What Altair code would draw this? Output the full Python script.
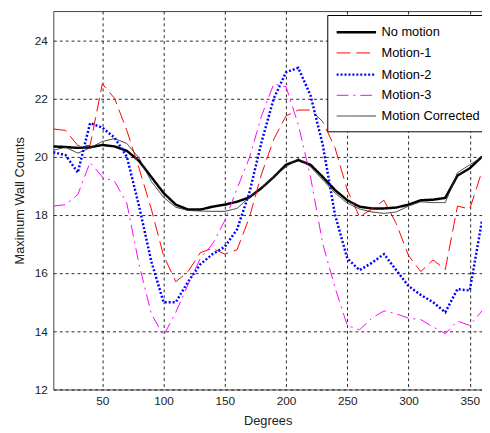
import altair as alt
import pandas as pd

degrees = list(range(10, 361, 10))

series_names = ["No motion", "Motion-1", "Motion-2", "Motion-3", "Motion Corrected"]

no_motion = [20.35, 20.33, 20.3, 20.32, 20.4, 20.35, 20.2, 19.85, 19.3, 18.75,
             18.35, 18.18, 18.18, 18.28, 18.35, 18.45, 18.6, 18.92, 19.3, 19.72,
             19.88, 19.72, 19.3, 18.85, 18.5, 18.28, 18.22, 18.22, 18.25, 18.35,
             18.5, 18.52, 18.58, 19.35, 19.6, 20.0]

motion_1 = [20.95, 20.9, 20.38, 20.38, 22.5, 22.0, 20.9, 19.6, 18.2, 16.6,
            15.7, 16.05, 16.7, 16.85, 16.65, 16.8, 17.9, 19.4, 20.6, 21.4,
            21.6, 21.6, 21.2, 20.3, 18.85, 17.93, 18.2, 18.5, 17.7, 16.6,
            16.05, 16.45, 16.12, 18.3, 18.2, 19.5]

motion_2 = [20.15, 20.05, 19.45, 21.15, 21.0, 20.65, 20.0, 18.3, 16.4, 15.0,
            15.0, 15.7, 16.3, 16.65, 16.9, 17.5, 18.75, 20.5, 22.0, 22.9,
            23.05, 22.1, 20.4, 18.0, 16.5, 16.1, 16.35, 16.65, 16.1, 15.55,
            15.25, 15.0, 14.65, 15.45, 15.4, 17.8]

motion_3 = [18.3, 18.35, 18.7, 19.8, 19.3, 19.15, 18.4, 16.3, 14.6, 13.85,
            14.65, 15.6, 16.5, 17.0, 17.8, 18.9, 19.95, 21.4, 22.5, 22.4,
            21.1, 19.3, 17.0, 15.5, 14.2, 14.05, 14.45, 14.7, 14.6, 14.45,
            14.4, 14.15, 13.92, 14.35, 14.2, 14.7]

motion_corrected = [20.22, 20.32, 20.12, 20.3, 20.52, 20.62, 20.45, 19.95, 19.15, 18.6,
                    18.26, 18.15, 18.13, 18.12, 18.12, 18.22, 18.6, 18.95, 19.3, 19.65,
                    19.93, 19.65, 19.2, 18.75, 18.4, 18.2, 18.1, 18.05, 18.1, 18.3,
                    18.45, 18.42, 18.42, 19.45, 19.72, 19.98]

x_ticks = [50, 100, 150, 200, 250, 300, 350]
y_ticks = [12, 14, 16, 18, 20, 22, 24]

colors = ["#000000", "#ff0000", "#0000ff", "#ff00ff", "#333333"]
dashes = [[1, 0], [14, 6], [2, 2], [12, 5, 2, 5], [1, 0]]
widths = [2.5, 1, 2.5, 1, 1]

rows = []
for name, vals in zip(series_names,
                      [no_motion, motion_1, motion_2, motion_3, motion_corrected]):
    for d, v in zip(degrees, vals):
        rows.append({"series": name, "deg": d, "val": v})
df = pd.DataFrame(rows)

FONT = "Liberation Sans"

legend = alt.Legend(
    title=None, orient="none", legendX=278, legendY=4,
    symbolType="M-1,0H4", symbolSize=256, symbolFillColor="transparent",
    fillColor="white", strokeColor="black", padding=8,
    labelFont=FONT, labelFontSize=13, labelColor="black",
    rowPadding=5, labelOffset=28,
)

chart = alt.Chart(df).mark_line(clip=True).encode(
    x=alt.X("deg:Q", scale=alt.Scale(domain=[10, 360], nice=False, zero=False),
            axis=alt.Axis(values=x_ticks, title="Degrees")),
    y=alt.Y("val:Q", scale=alt.Scale(domain=[12, 25], nice=False, zero=False),
            axis=alt.Axis(values=y_ticks, title="Maximum Wall Counts")),
    color=alt.Color("series:N", scale=alt.Scale(domain=series_names, range=colors),
                    sort=series_names, legend=legend),
    strokeDash=alt.StrokeDash("series:N",
                              scale=alt.Scale(type="ordinal", domain=series_names, range=dashes),
                              sort=series_names, legend=legend),
    strokeWidth=alt.StrokeWidth("series:N",
                                scale=alt.Scale(type="ordinal", domain=series_names, range=widths),
                                sort=series_names, legend=legend),
    detail="series:N",
    order="deg:Q",
).properties(
    width=435, height=384,
    autosize=alt.AutoSizeParams(type="none"),
    padding={"left": 46, "top": 0, "right": 0, "bottom": 38},
).configure_view(
    stroke="#444444", strokeWidth=1,
).configure_axis(
    grid=True, gridColor="#000000", gridDash=[3, 3], gridOpacity=0.85, gridWidth=1,
    domain=False, ticks=False,
    labelFont=FONT, labelFontSize=12, labelColor="#222222", labelPadding=6,
    titleFont=FONT, titleFontSize=13, titleFontWeight="normal", titleColor="#222222",
).configure_axisX(
    titlePadding=9,
).configure_axisY(
    titlePadding=8,
)

chart.save("out.html", embed_options={"renderer": "svg", "actions": False})
